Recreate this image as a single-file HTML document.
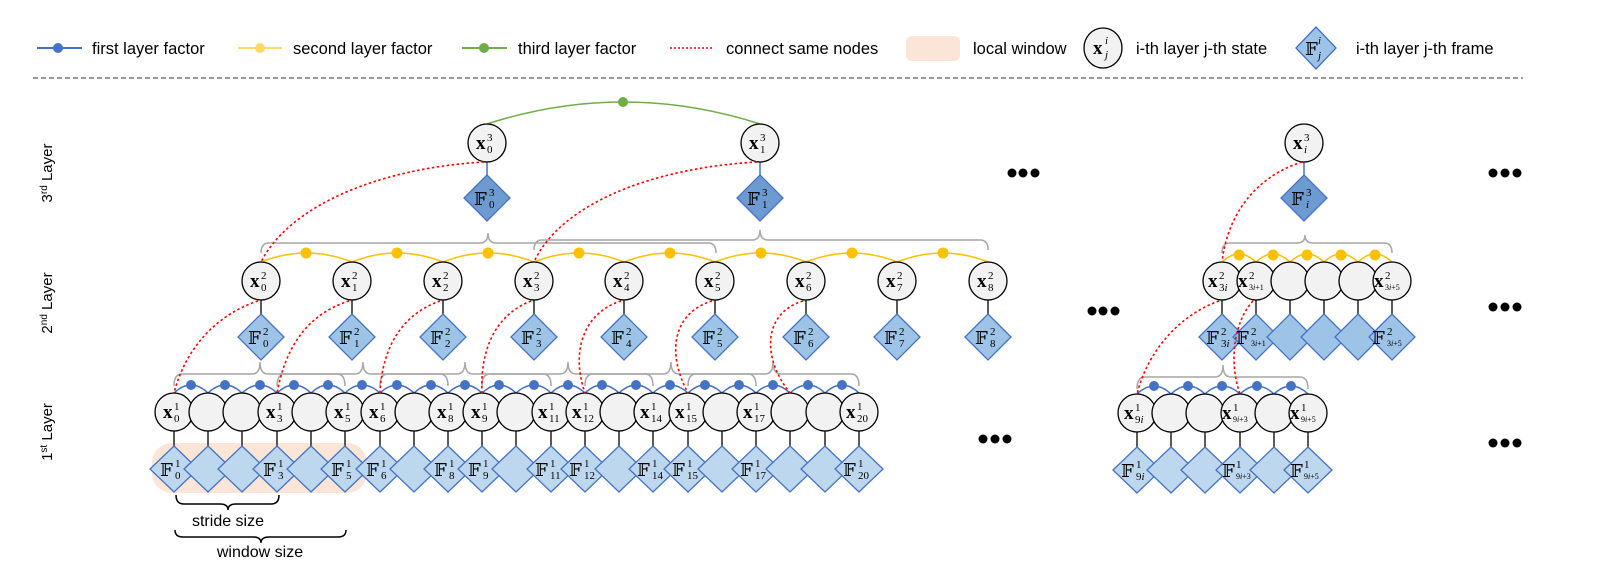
<!DOCTYPE html>
<html><head><meta charset="utf-8"><style>
html,body{margin:0;padding:0;background:#fff;}
svg{display:block;}
.xb{font-family:"Liberation Serif",serif;font-weight:bold;font-size:19px;fill:#000;}
.sp{font-family:"Liberation Serif",serif;font-size:11px;fill:#000;}
.sb{font-family:"Liberation Serif",serif;font-size:11px;fill:#000;}
.sb2{font-family:"Liberation Serif",serif;font-size:8px;fill:#000;}
.fb{font-family:"DejaVu Serif","DejaVu Sans",serif;font-size:18px;fill:#000;}
.lg{font-family:"Liberation Sans",sans-serif;font-size:16.5px;fill:#000;}
.ll{font-family:"Liberation Sans",sans-serif;font-size:15px;fill:#000;}
.bt{font-family:"Liberation Sans",sans-serif;font-size:16px;fill:#000;}
</style></head><body>
<svg width="1601" height="566" viewBox="0 0 1601 566" xmlns="http://www.w3.org/2000/svg">
<defs>
<circle id="c" r="19" fill="#f2f2f2" stroke="#000" stroke-width="1.3"/>
<polygon id="d1" points="0,-23 24,0 0,23 -24,0" fill="#bdd7ee" stroke="#4472c4" stroke-width="1.3"/>
<polygon id="d2" points="0,-23 23,0 0,23 -23,0" fill="#9dc3e6" stroke="#4472c4" stroke-width="1.3"/>
<polygon id="d3" points="0,-23 23,0 0,23 -23,0" fill="#6d9bd1" stroke="#4472c4" stroke-width="1.3"/>
</defs>

<!-- legend -->
<line x1="37" y1="48" x2="82" y2="48" stroke="#4472c4" stroke-width="2"/><circle cx="58" cy="48" r="5" fill="#4472c4"/>
<text x="92" y="54" class="lg">first layer factor</text>
<line x1="238" y1="48" x2="282" y2="48" stroke="#ffd966" stroke-width="2"/><circle cx="260" cy="48" r="5" fill="#ffd966"/>
<text x="293" y="54" class="lg">second layer factor</text>
<line x1="462" y1="48" x2="507" y2="48" stroke="#70ad47" stroke-width="2"/><circle cx="484" cy="48" r="5" fill="#70ad47"/>
<text x="518" y="54" class="lg">third layer factor</text>
<line x1="670" y1="48" x2="714" y2="48" stroke="#ff0000" stroke-width="1.5" stroke-dasharray="2,2"/>
<text x="726" y="54" class="lg">connect same nodes</text>
<rect x="906" y="36" width="54" height="25" rx="6" fill="#fbe5d6"/>
<text x="973" y="54" class="lg">local window</text>
<ellipse cx="1103" cy="48" rx="19" ry="20" fill="#f2f2f2" stroke="#000" stroke-width="1.3"/>
<text x="1093" y="54" class="xb" font-size="17">x</text><text x="1105" y="44" class="sp" font-style="italic">i</text><text x="1105" y="58" class="sp" font-style="italic">j</text>
<text x="1136" y="54" class="lg">i-th layer j-th state</text>
<polygon points="1316,27 1336,48 1316,69 1296,48" fill="#9dc3e6" stroke="#4472c4" stroke-width="1.3"/>
<text x="1305" y="55" class="fb" font-size="16">𝔽</text><text x="1318" y="44" class="sp" font-style="italic">i</text><text x="1318" y="59" class="sp" font-style="italic">j</text>
<text x="1356" y="54" class="lg">i-th layer j-th frame</text>
<line x1="33" y1="78" x2="1523" y2="78" stroke="#333" stroke-width="1" stroke-dasharray="5,3"/>

<!-- layer labels -->
<text transform="translate(52,173) rotate(-90)" text-anchor="middle" class="ll">3<tspan font-size="10" dy="-5">rd</tspan><tspan dy="5"> Layer</tspan></text>
<text transform="translate(52,303) rotate(-90)" text-anchor="middle" class="ll">2<tspan font-size="10" dy="-5">nd</tspan><tspan dy="5"> Layer</tspan></text>
<text transform="translate(52,432) rotate(-90)" text-anchor="middle" class="ll">1<tspan font-size="10" dy="-5">st</tspan><tspan dy="5"> Layer</tspan></text>

<!-- local window -->
<rect x="152" y="443" width="215" height="50" rx="20" fill="#fbe5d6"/>

<!-- ===== Layer 3 ===== -->
<path d="M487,124 Q623,80 760,124" fill="none" stroke="#70ad47" stroke-width="1.5"/>
<circle cx="623" cy="102" r="5" fill="#70ad47"/>
<line x1="487" y1="162" x2="487" y2="175" stroke="#4472c4" stroke-width="1.5"/>
<line x1="760" y1="162" x2="760" y2="175" stroke="#4472c4" stroke-width="1.5"/>
<line x1="1304" y1="162" x2="1304" y2="175" stroke="#4472c4" stroke-width="1.5"/>
<use href="#c" x="487" y="143"/><use href="#c" x="760" y="143"/><use href="#c" x="1304" y="143"/>
<use href="#d3" x="487" y="198"/><use href="#d3" x="760" y="198"/><use href="#d3" x="1304" y="198"/>
<g transform="translate(487,143)"><text x="-11" y="6" class="xb">x</text><text x="0" y="-2" class="sp">3</text><text x="0" y="10" class="sb">0</text></g>
<g transform="translate(760,143)"><text x="-11" y="6" class="xb">x</text><text x="0" y="-2" class="sp">3</text><text x="0" y="10" class="sb">1</text></g>
<g transform="translate(1304,143)"><text x="-11" y="6" class="xb">x</text><text x="0" y="-2" class="sp">3</text><text x="0" y="10" class="sb" font-style="italic">i</text></g>
<g transform="translate(487,198)"><text x="-13" y="7" class="fb">𝔽</text><text x="2" y="-2" class="sp">3</text><text x="2" y="10" class="sb">0</text></g>
<g transform="translate(760,198)"><text x="-13" y="7" class="fb">𝔽</text><text x="2" y="-2" class="sp">3</text><text x="2" y="10" class="sb">1</text></g>
<g transform="translate(1304,198)"><text x="-13" y="7" class="fb">𝔽</text><text x="2" y="-2" class="sp">3</text><text x="2" y="10" class="sb" font-style="italic">i</text></g>

<!-- ===== braces ===== -->
<g fill="none" stroke="#a6a6a6" stroke-width="1.5">
<path d="M261,253 Q261,243 269,243 L480,243 Q488,243 488,233 Q488,243 496,243 L708,243 Q716,243 716,253"/>
<path d="M534,250 Q534,240 542,240 L752,240 Q760,240 760,230 Q760,240 768,240 L980,240 Q988,240 988,250"/>
<path d="M1222,253 Q1222,243 1230,243 L1297,243 Q1305,243 1305,235 Q1305,243 1313,243 L1384,243 Q1392,243 1392,253"/>
<path d="M174,386 Q174,374 182,374 L252,374 Q260,374 260,362 Q260,374 268,374 L337,374 Q345,374 345,386"/>
<path d="M277,386 Q277,374 285,374 L355,374 Q363,374 363,362 Q363,374 371,374 L440,374 Q448,374 448,386"/>
<path d="M380,386 Q380,374 388,374 L457,374 Q465,374 465,362 Q465,374 473,374 L543,374 Q551,374 551,386"/>
<path d="M482,386 Q482,374 490,374 L560,374 Q568,374 568,362 Q568,374 576,374 L645,374 Q653,374 653,386"/>
<path d="M585,386 Q585,374 593,374 L663,374 Q671,374 671,362 Q671,374 679,374 L748,374 Q756,374 756,386"/>
<path d="M688,386 Q688,374 696,374 L765,374 Q773,374 773,362 Q773,374 781,374 L851,374 Q859,374 859,386"/>
<path d="M1137,389 Q1137,377 1145,377 L1215,377 Q1223,377 1223,365 Q1223,377 1231,377 L1300,377 Q1308,377 1308,389"/>
</g>

<!-- ===== Layer 2 ===== -->
<g fill="none" stroke="#ffc000" stroke-width="1.5">
<path d="M261,262 Q306,244 352,262 Q397,244 443,262 Q488,244 534,262 Q579,244 624,262 Q670,244 715,262 Q761,244 806,262 Q852,244 897,262 Q943,244 988,262"/>
<path d="M1222,262 Q1239,246 1256,262 Q1273,246 1290,262 Q1307,246 1324,262 Q1341,246 1358,262 Q1375,246 1392,262"/>
</g>
<g fill="#ffc000">
<circle cx="306" cy="253" r="5.5"/><circle cx="397" cy="253" r="5.5"/><circle cx="488" cy="253" r="5.5"/><circle cx="579" cy="253" r="5.5"/><circle cx="670" cy="253" r="5.5"/><circle cx="761" cy="253" r="5.5"/><circle cx="852" cy="253" r="5.5"/><circle cx="943" cy="253" r="5.5"/>
<circle cx="1239" cy="255" r="5.5"/><circle cx="1273" cy="255" r="5.5"/><circle cx="1307" cy="255" r="5.5"/><circle cx="1341" cy="255" r="5.5"/><circle cx="1375" cy="255" r="5.5"/>
</g>
<g stroke="#222" stroke-width="1.5">
<line x1="261" y1="300" x2="261" y2="314"/><line x1="352" y1="300" x2="352" y2="314"/><line x1="443" y1="300" x2="443" y2="314"/><line x1="534" y1="300" x2="534" y2="314"/><line x1="624" y1="300" x2="624" y2="314"/><line x1="715" y1="300" x2="715" y2="314"/><line x1="806" y1="300" x2="806" y2="314"/><line x1="897" y1="300" x2="897" y2="314"/><line x1="988" y1="300" x2="988" y2="314"/>
<line x1="1222" y1="300" x2="1222" y2="314"/><line x1="1256" y1="300" x2="1256" y2="314"/><line x1="1290" y1="300" x2="1290" y2="314"/><line x1="1324" y1="300" x2="1324" y2="314"/><line x1="1358" y1="300" x2="1358" y2="314"/><line x1="1392" y1="300" x2="1392" y2="314"/>
</g>
<use href="#c" x="261" y="281"/><use href="#c" x="352" y="281"/><use href="#c" x="443" y="281"/><use href="#c" x="534" y="281"/><use href="#c" x="624" y="281"/><use href="#c" x="715" y="281"/><use href="#c" x="806" y="281"/><use href="#c" x="897" y="281"/><use href="#c" x="988" y="281"/>
<use href="#c" x="1222" y="281"/><use href="#c" x="1256" y="281"/><use href="#c" x="1290" y="281"/><use href="#c" x="1324" y="281"/><use href="#c" x="1358" y="281"/><use href="#c" x="1392" y="281"/>
<use href="#d2" x="261" y="337"/><use href="#d2" x="352" y="337"/><use href="#d2" x="443" y="337"/><use href="#d2" x="534" y="337"/><use href="#d2" x="624" y="337"/><use href="#d2" x="715" y="337"/><use href="#d2" x="806" y="337"/><use href="#d2" x="897" y="337"/><use href="#d2" x="988" y="337"/>
<use href="#d2" x="1222" y="337"/><use href="#d2" x="1256" y="337"/><use href="#d2" x="1290" y="337"/><use href="#d2" x="1324" y="337"/><use href="#d2" x="1358" y="337"/><use href="#d2" x="1392" y="337"/>
<g transform="translate(261,281)"><text x="-11" y="6" class="xb">x</text><text x="0" y="-2" class="sp">2</text><text x="0" y="10" class="sb">0</text></g>
<g transform="translate(352,281)"><text x="-11" y="6" class="xb">x</text><text x="0" y="-2" class="sp">2</text><text x="0" y="10" class="sb">1</text></g>
<g transform="translate(443,281)"><text x="-11" y="6" class="xb">x</text><text x="0" y="-2" class="sp">2</text><text x="0" y="10" class="sb">2</text></g>
<g transform="translate(534,281)"><text x="-11" y="6" class="xb">x</text><text x="0" y="-2" class="sp">2</text><text x="0" y="10" class="sb">3</text></g>
<g transform="translate(624,281)"><text x="-11" y="6" class="xb">x</text><text x="0" y="-2" class="sp">2</text><text x="0" y="10" class="sb">4</text></g>
<g transform="translate(715,281)"><text x="-11" y="6" class="xb">x</text><text x="0" y="-2" class="sp">2</text><text x="0" y="10" class="sb">5</text></g>
<g transform="translate(806,281)"><text x="-11" y="6" class="xb">x</text><text x="0" y="-2" class="sp">2</text><text x="0" y="10" class="sb">6</text></g>
<g transform="translate(897,281)"><text x="-11" y="6" class="xb">x</text><text x="0" y="-2" class="sp">2</text><text x="0" y="10" class="sb">7</text></g>
<g transform="translate(988,281)"><text x="-11" y="6" class="xb">x</text><text x="0" y="-2" class="sp">2</text><text x="0" y="10" class="sb">8</text></g>
<g transform="translate(1222,281)"><text x="-14" y="6" class="xb">x</text><text x="-3" y="-2" class="sp">2</text><text x="-3" y="10" class="sb">3<tspan font-style="italic">i</tspan></text></g>
<g transform="translate(1256,281)"><text x="-18" y="6" class="xb">x</text><text x="-7" y="-2" class="sp">2</text><text x="-7" y="9" class="sb2">3<tspan font-style="italic">i</tspan>+1</text></g>
<g transform="translate(1392,281)"><text x="-18" y="6" class="xb">x</text><text x="-7" y="-2" class="sp">2</text><text x="-7" y="9" class="sb2">3<tspan font-style="italic">i</tspan>+5</text></g>
<g transform="translate(261,337)"><text x="-13" y="7" class="fb">𝔽</text><text x="2" y="-2" class="sp">2</text><text x="2" y="10" class="sb">0</text></g>
<g transform="translate(352,337)"><text x="-13" y="7" class="fb">𝔽</text><text x="2" y="-2" class="sp">2</text><text x="2" y="10" class="sb">1</text></g>
<g transform="translate(443,337)"><text x="-13" y="7" class="fb">𝔽</text><text x="2" y="-2" class="sp">2</text><text x="2" y="10" class="sb">2</text></g>
<g transform="translate(534,337)"><text x="-13" y="7" class="fb">𝔽</text><text x="2" y="-2" class="sp">2</text><text x="2" y="10" class="sb">3</text></g>
<g transform="translate(624,337)"><text x="-13" y="7" class="fb">𝔽</text><text x="2" y="-2" class="sp">2</text><text x="2" y="10" class="sb">4</text></g>
<g transform="translate(715,337)"><text x="-13" y="7" class="fb">𝔽</text><text x="2" y="-2" class="sp">2</text><text x="2" y="10" class="sb">5</text></g>
<g transform="translate(806,337)"><text x="-13" y="7" class="fb">𝔽</text><text x="2" y="-2" class="sp">2</text><text x="2" y="10" class="sb">6</text></g>
<g transform="translate(897,337)"><text x="-13" y="7" class="fb">𝔽</text><text x="2" y="-2" class="sp">2</text><text x="2" y="10" class="sb">7</text></g>
<g transform="translate(988,337)"><text x="-13" y="7" class="fb">𝔽</text><text x="2" y="-2" class="sp">2</text><text x="2" y="10" class="sb">8</text></g>
<g transform="translate(1222,337)"><text x="-16" y="7" class="fb">𝔽</text><text x="-1" y="-2" class="sp">2</text><text x="-1" y="10" class="sb">3<tspan font-style="italic">i</tspan></text></g>
<g transform="translate(1256,337)"><text x="-20" y="7" class="fb">𝔽</text><text x="-5" y="-2" class="sp">2</text><text x="-5" y="9" class="sb2">3<tspan font-style="italic">i</tspan>+1</text></g>
<g transform="translate(1392,337)"><text x="-20" y="7" class="fb">𝔽</text><text x="-5" y="-2" class="sp">2</text><text x="-5" y="9" class="sb2">3<tspan font-style="italic">i</tspan>+5</text></g>

<!-- ===== Layer 1 ===== -->
<path fill="none" stroke="#4472c4" stroke-width="1.5" d="M174,393 Q191,377 208,393 Q225,377 242,393 Q260,377 277,393 Q294,377 311,393 Q328,377 345,393 Q362,377 380,393 Q397,377 414,393 Q431,377 448,393 Q465,377 482,393 Q499,377 516,393 Q534,377 551,393 Q568,377 585,393 Q602,377 619,393 Q636,377 653,393 Q670,377 688,393 Q705,377 722,393 Q739,377 756,393 Q773,377 790,393 Q808,377 825,393 Q842,377 859,393"/>
<path fill="none" stroke="#4472c4" stroke-width="1.5" d="M1137,394 Q1154,378 1171,394 Q1188,378 1205,394 Q1222,378 1240,394 Q1257,378 1274,394 Q1291,378 1308,394"/>
<g fill="#4472c4">
<circle cx="191" cy="385" r="5"/><circle cx="225" cy="385" r="5"/><circle cx="260" cy="385" r="5"/><circle cx="294" cy="385" r="5"/><circle cx="328" cy="385" r="5"/><circle cx="362" cy="385" r="5"/><circle cx="397" cy="385" r="5"/><circle cx="431" cy="385" r="5"/><circle cx="465" cy="385" r="5"/><circle cx="499" cy="385" r="5"/><circle cx="534" cy="385" r="5"/><circle cx="568" cy="385" r="5"/><circle cx="602" cy="385" r="5"/><circle cx="636" cy="385" r="5"/><circle cx="670" cy="385" r="5"/><circle cx="705" cy="385" r="5"/><circle cx="739" cy="385" r="5"/><circle cx="773" cy="385" r="5"/><circle cx="808" cy="385" r="5"/><circle cx="842" cy="385" r="5"/>
<circle cx="1154" cy="386" r="5"/><circle cx="1188" cy="386" r="5"/><circle cx="1222" cy="386" r="5"/><circle cx="1257" cy="386" r="5"/><circle cx="1291" cy="386" r="5"/>
</g>
<g stroke="#222" stroke-width="1.5">
<line x1="174" y1="431" x2="174" y2="446"/><line x1="208" y1="431" x2="208" y2="446"/><line x1="242" y1="431" x2="242" y2="446"/><line x1="277" y1="431" x2="277" y2="446"/><line x1="311" y1="431" x2="311" y2="446"/><line x1="345" y1="431" x2="345" y2="446"/><line x1="380" y1="431" x2="380" y2="446"/><line x1="414" y1="431" x2="414" y2="446"/><line x1="448" y1="431" x2="448" y2="446"/><line x1="482" y1="431" x2="482" y2="446"/><line x1="516" y1="431" x2="516" y2="446"/><line x1="551" y1="431" x2="551" y2="446"/><line x1="585" y1="431" x2="585" y2="446"/><line x1="619" y1="431" x2="619" y2="446"/><line x1="653" y1="431" x2="653" y2="446"/><line x1="688" y1="431" x2="688" y2="446"/><line x1="722" y1="431" x2="722" y2="446"/><line x1="756" y1="431" x2="756" y2="446"/><line x1="790" y1="431" x2="790" y2="446"/><line x1="825" y1="431" x2="825" y2="446"/><line x1="859" y1="431" x2="859" y2="446"/>
<line x1="1137" y1="432" x2="1137" y2="447"/><line x1="1171" y1="432" x2="1171" y2="447"/><line x1="1205" y1="432" x2="1205" y2="447"/><line x1="1240" y1="432" x2="1240" y2="447"/><line x1="1274" y1="432" x2="1274" y2="447"/><line x1="1308" y1="432" x2="1308" y2="447"/>
</g>
<g>
<use href="#c" x="174" y="412"/><use href="#c" x="208" y="412"/><use href="#c" x="242" y="412"/><use href="#c" x="277" y="412"/><use href="#c" x="311" y="412"/><use href="#c" x="345" y="412"/><use href="#c" x="380" y="412"/><use href="#c" x="414" y="412"/><use href="#c" x="448" y="412"/><use href="#c" x="482" y="412"/><use href="#c" x="516" y="412"/><use href="#c" x="551" y="412"/><use href="#c" x="585" y="412"/><use href="#c" x="619" y="412"/><use href="#c" x="653" y="412"/><use href="#c" x="688" y="412"/><use href="#c" x="722" y="412"/><use href="#c" x="756" y="412"/><use href="#c" x="790" y="412"/><use href="#c" x="825" y="412"/><use href="#c" x="859" y="412"/>
<use href="#c" x="1137" y="413"/><use href="#c" x="1171" y="413"/><use href="#c" x="1205" y="413"/><use href="#c" x="1240" y="413"/><use href="#c" x="1274" y="413"/><use href="#c" x="1308" y="413"/>
<use href="#d1" x="174" y="469"/><use href="#d1" x="208" y="469"/><use href="#d1" x="242" y="469"/><use href="#d1" x="277" y="469"/><use href="#d1" x="311" y="469"/><use href="#d1" x="345" y="469"/><use href="#d1" x="380" y="469"/><use href="#d1" x="414" y="469"/><use href="#d1" x="448" y="469"/><use href="#d1" x="482" y="469"/><use href="#d1" x="516" y="469"/><use href="#d1" x="551" y="469"/><use href="#d1" x="585" y="469"/><use href="#d1" x="619" y="469"/><use href="#d1" x="653" y="469"/><use href="#d1" x="688" y="469"/><use href="#d1" x="722" y="469"/><use href="#d1" x="756" y="469"/><use href="#d1" x="790" y="469"/><use href="#d1" x="825" y="469"/><use href="#d1" x="859" y="469"/>
<use href="#d1" x="1137" y="470"/><use href="#d1" x="1171" y="470"/><use href="#d1" x="1205" y="470"/><use href="#d1" x="1240" y="470"/><use href="#d1" x="1274" y="470"/><use href="#d1" x="1308" y="470"/>
</g>
<g transform="translate(174,412)"><text x="-11" y="6" class="xb">x</text><text x="0" y="-2" class="sp">1</text><text x="0" y="10" class="sb">0</text></g>
<g transform="translate(277,412)"><text x="-11" y="6" class="xb">x</text><text x="0" y="-2" class="sp">1</text><text x="0" y="10" class="sb">3</text></g>
<g transform="translate(345,412)"><text x="-11" y="6" class="xb">x</text><text x="0" y="-2" class="sp">1</text><text x="0" y="10" class="sb">5</text></g>
<g transform="translate(380,412)"><text x="-11" y="6" class="xb">x</text><text x="0" y="-2" class="sp">1</text><text x="0" y="10" class="sb">6</text></g>
<g transform="translate(448,412)"><text x="-11" y="6" class="xb">x</text><text x="0" y="-2" class="sp">1</text><text x="0" y="10" class="sb">8</text></g>
<g transform="translate(482,412)"><text x="-11" y="6" class="xb">x</text><text x="0" y="-2" class="sp">1</text><text x="0" y="10" class="sb">9</text></g>
<g transform="translate(551,412)"><text x="-13" y="6" class="xb">x</text><text x="-2" y="-2" class="sp">1</text><text x="-2" y="10" class="sb">11</text></g>
<g transform="translate(585,412)"><text x="-13" y="6" class="xb">x</text><text x="-2" y="-2" class="sp">1</text><text x="-2" y="10" class="sb">12</text></g>
<g transform="translate(653,412)"><text x="-13" y="6" class="xb">x</text><text x="-2" y="-2" class="sp">1</text><text x="-2" y="10" class="sb">14</text></g>
<g transform="translate(688,412)"><text x="-13" y="6" class="xb">x</text><text x="-2" y="-2" class="sp">1</text><text x="-2" y="10" class="sb">15</text></g>
<g transform="translate(756,412)"><text x="-13" y="6" class="xb">x</text><text x="-2" y="-2" class="sp">1</text><text x="-2" y="10" class="sb">17</text></g>
<g transform="translate(859,412)"><text x="-13" y="6" class="xb">x</text><text x="-2" y="-2" class="sp">1</text><text x="-2" y="10" class="sb">20</text></g>
<g transform="translate(1137,413)"><text x="-13" y="6" class="xb">x</text><text x="-2" y="-2" class="sp">1</text><text x="-2" y="10" class="sb">9<tspan font-style="italic">i</tspan></text></g>
<g transform="translate(1240,413)"><text x="-18" y="6" class="xb">x</text><text x="-7" y="-2" class="sp">1</text><text x="-7" y="9" class="sb2">9<tspan font-style="italic">i</tspan>+3</text></g>
<g transform="translate(1308,413)"><text x="-18" y="6" class="xb">x</text><text x="-7" y="-2" class="sp">1</text><text x="-7" y="9" class="sb2">9<tspan font-style="italic">i</tspan>+5</text></g>
<g transform="translate(174,469)"><text x="-14" y="7" class="fb">𝔽</text><text x="1" y="-2" class="sp">1</text><text x="1" y="10" class="sb">0</text></g>
<g transform="translate(277,469)"><text x="-14" y="7" class="fb">𝔽</text><text x="1" y="-2" class="sp">1</text><text x="1" y="10" class="sb">3</text></g>
<g transform="translate(345,469)"><text x="-14" y="7" class="fb">𝔽</text><text x="1" y="-2" class="sp">1</text><text x="1" y="10" class="sb">5</text></g>
<g transform="translate(380,469)"><text x="-14" y="7" class="fb">𝔽</text><text x="1" y="-2" class="sp">1</text><text x="1" y="10" class="sb">6</text></g>
<g transform="translate(448,469)"><text x="-14" y="7" class="fb">𝔽</text><text x="1" y="-2" class="sp">1</text><text x="1" y="10" class="sb">8</text></g>
<g transform="translate(482,469)"><text x="-14" y="7" class="fb">𝔽</text><text x="1" y="-2" class="sp">1</text><text x="1" y="10" class="sb">9</text></g>
<g transform="translate(551,469)"><text x="-16" y="7" class="fb">𝔽</text><text x="-1" y="-2" class="sp">1</text><text x="-1" y="10" class="sb">11</text></g>
<g transform="translate(585,469)"><text x="-16" y="7" class="fb">𝔽</text><text x="-1" y="-2" class="sp">1</text><text x="-1" y="10" class="sb">12</text></g>
<g transform="translate(653,469)"><text x="-16" y="7" class="fb">𝔽</text><text x="-1" y="-2" class="sp">1</text><text x="-1" y="10" class="sb">14</text></g>
<g transform="translate(688,469)"><text x="-16" y="7" class="fb">𝔽</text><text x="-1" y="-2" class="sp">1</text><text x="-1" y="10" class="sb">15</text></g>
<g transform="translate(756,469)"><text x="-16" y="7" class="fb">𝔽</text><text x="-1" y="-2" class="sp">1</text><text x="-1" y="10" class="sb">17</text></g>
<g transform="translate(859,469)"><text x="-16" y="7" class="fb">𝔽</text><text x="-1" y="-2" class="sp">1</text><text x="-1" y="10" class="sb">20</text></g>
<g transform="translate(1137,470)"><text x="-16" y="7" class="fb">𝔽</text><text x="-1" y="-2" class="sp">1</text><text x="-1" y="10" class="sb">9<tspan font-style="italic">i</tspan></text></g>
<g transform="translate(1240,470)"><text x="-18" y="7" class="fb">𝔽</text><text x="-4" y="-2" class="sp">1</text><text x="-4" y="9" class="sb2">9<tspan font-style="italic">i</tspan>+3</text></g>
<g transform="translate(1308,470)"><text x="-18" y="7" class="fb">𝔽</text><text x="-4" y="-2" class="sp">1</text><text x="-4" y="9" class="sb2">9<tspan font-style="italic">i</tspan>+5</text></g>

<!-- red dotted connections -->
<g fill="none" stroke="#ff0000" stroke-width="1.6" stroke-dasharray="2.5,2.5">
<path d="M484,162 C380,168 290,205 261,262"/>
<path d="M757,162 C650,168 560,205 534,262"/>
<path d="M1302,162 C1260,175 1228,210 1222,262"/>
<path d="M258,301 C215,315 185,350 174,393"/>
<path d="M349,301 C305,315 285,350 277,393"/>
<path d="M440,301 C400,315 382,350 380,393"/>
<path d="M531,301 C495,315 480,350 482,393"/>
<path d="M621,301 C585,312 570,350 585,393"/>
<path d="M712,301 C675,312 665,350 688,393"/>
<path d="M803,301 C765,312 760,355 790,393"/>
<path d="M1219,301 C1180,315 1148,350 1137,394"/>
<path d="M1253,301 C1235,320 1228,360 1240,394"/>
</g>

<!-- ellipses -->
<g fill="#000">
<circle cx="1012" cy="173" r="4.5"/><circle cx="1023" cy="173" r="4.5"/><circle cx="1035" cy="173" r="4.5"/>
<circle cx="1493" cy="173" r="4.5"/><circle cx="1505" cy="173" r="4.5"/><circle cx="1517" cy="173" r="4.5"/>
<circle cx="1092" cy="311" r="4.5"/><circle cx="1103" cy="311" r="4.5"/><circle cx="1115" cy="311" r="4.5"/>
<circle cx="1493" cy="307" r="4.5"/><circle cx="1505" cy="307" r="4.5"/><circle cx="1517" cy="307" r="4.5"/>
<circle cx="983" cy="439" r="4.5"/><circle cx="995" cy="439" r="4.5"/><circle cx="1007" cy="439" r="4.5"/>
<circle cx="1493" cy="443" r="4.5"/><circle cx="1505" cy="443" r="4.5"/><circle cx="1517" cy="443" r="4.5"/>
</g>

<!-- stride / window braces -->
<g fill="none" stroke="#000" stroke-width="1.5">
<path d="M176,495 Q176,504 184,504 L220,504 Q228,504 228,510 Q228,504 236,504 L271,504 Q279,504 279,495"/>
<path d="M175,530 Q175,537 183,537 L253,537 Q261,537 261,543 Q261,537 269,537 L338,537 Q346,537 346,530"/>
</g>
<text x="228" y="526" text-anchor="middle" class="bt">stride size</text>
<text x="260" y="557" text-anchor="middle" class="bt">window size</text>
</svg>
</body></html>
